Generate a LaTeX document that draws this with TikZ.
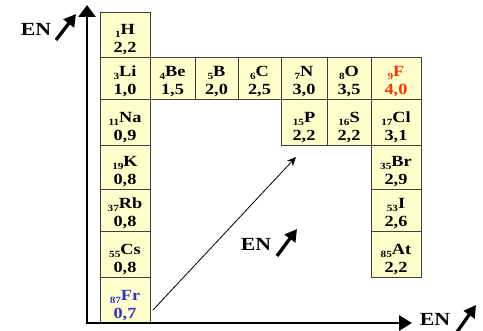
\documentclass[tikz,border=0pt]{standalone}
\usepackage{fontspec}
\setmainfont{Liberation Serif}[FakeStretch=1.18]
\usetikzlibrary{arrows.meta}
\definecolor{cellfill}{HTML}{FFFFCC}
\definecolor{cellline}{HTML}{404040}
\definecolor{fred}{HTML}{FF3300}
\definecolor{frblue}{HTML}{3333CC}
\newcommand{\elsub}[1]{\raisebox{-3pt}{\fontsize{9.5}{9.5}\selectfont #1}}
% \elcell{name}{x1}{y1}{x2}{y2}{sub}{symbol}{value}{colour}
\newcommand{\elcell}[9]{%
  \node[cellbox, minimum width={(#4-#2)*1pt}, minimum height={(#5-#3)*1pt}] (#1) at ({(#2+#4)/2},{(#3+#5)/2}) {};
  \node[celltext, text=#9] (#1t) at ([yshift=2.5pt]#1.south) {\elsub{#6}#7\\#8};
}
\tikzset{
  cellbox/.style={draw=cellline, fill=cellfill, line width=0.7pt, inner sep=0pt},
  celltext/.style={anchor=south, inner sep=0pt, align=center, font=\bfseries\fontsize{15.5}{18}\selectfont},
  axis/.style={line width=2.7pt},
  enlabel/.style={font=\bfseries\fontsize{18.5}{18.5}\selectfont, inner sep=0pt},
  enarrow/.style={line width=3.3pt, -{Triangle[length=12pt,width=13pt]}},
}
\begin{document}
\begin{tikzpicture}[x=1pt,y=-1pt]
\useasboundingbox (0,0) rectangle (483,331);
% cells
\elcell{H}{100}{12}{150}{57}{1}{H}{2,2}{black}
\elcell{Li}{100}{57}{150}{99}{3}{Li}{1,0}{black}
\elcell{Be}{150}{57}{195}{99}{4}{Be}{1,5}{black}
\elcell{B}{195}{57}{238}{99}{5}{B}{2,0}{black}
\elcell{C}{238}{57}{281}{99}{6}{C}{2,5}{black}
\elcell{N}{281}{57}{327}{99}{7}{N}{3,0}{black}
\elcell{O}{327}{57}{371}{99}{8}{O}{3,5}{black}
\elcell{F}{371}{57}{421}{99}{9}{F}{4,0}{fred}
\elcell{Na}{100}{99}{150}{145}{11}{Na}{0,9}{black}
\elcell{K}{100}{145}{150}{189}{19}{K}{0,8}{black}
\elcell{Rb}{100}{189}{150}{231}{37}{Rb}{0,8}{black}
\elcell{Cs}{100}{231}{150}{277}{55}{Cs}{0,8}{black}
\elcell{Fr}{100}{277}{150}{323}{87}{Fr}{0,7}{frblue}
\elcell{P}{281}{99}{327}{145}{15}{P}{2,2}{black}
\elcell{S}{327}{99}{371}{145}{16}{S}{2,2}{black}
\elcell{Cl}{371}{99}{421}{145}{17}{Cl}{3,1}{black}
\elcell{Br}{371}{145}{421}{189}{35}{Br}{2,9}{black}
\elcell{I}{371}{189}{421}{231}{53}{I}{2,6}{black}
\elcell{At}{371}{231}{421}{277}{85}{At}{2,2}{black}
% axes
\coordinate (origin) at (87,323);
\coordinate (ytip) at (87,5);
\coordinate (xtip) at (412,323);
\draw[axis, -{Triangle[length=12pt,width=17pt]}] (origin) -- (ytip);
\draw[axis, -{Triangle[length=13pt,width=15pt]}] ([xshift=-1.35pt]origin) -- (xtip);
% diagonal trend arrow
\coordinate (dstart) at (153,310);
\coordinate (dend) at (296,157);
\draw[line width=0.8pt, -{Stealth[length=9pt,width=8pt]}] (dstart) -- (dend);
% EN labels
\node[enlabel] (en1) at (36,29) {EN};
\coordinate (a1s) at (56,40);
\coordinate (a1e) at (76,14);
\draw[enarrow] (a1s) -- (a1e);
\node[enlabel] (en2) at (256,244) {EN};
\coordinate (a2s) at (277,256);
\coordinate (a2e) at (297,229);
\draw[enarrow] (a2s) -- (a2e);
\node[enlabel] (en3) at (435,319) {EN};
\coordinate (a3s) at (457,332);
\coordinate (a3e) at (476,305);
\draw[enarrow] (a3s) -- (a3e);
\end{tikzpicture}
\end{document}
